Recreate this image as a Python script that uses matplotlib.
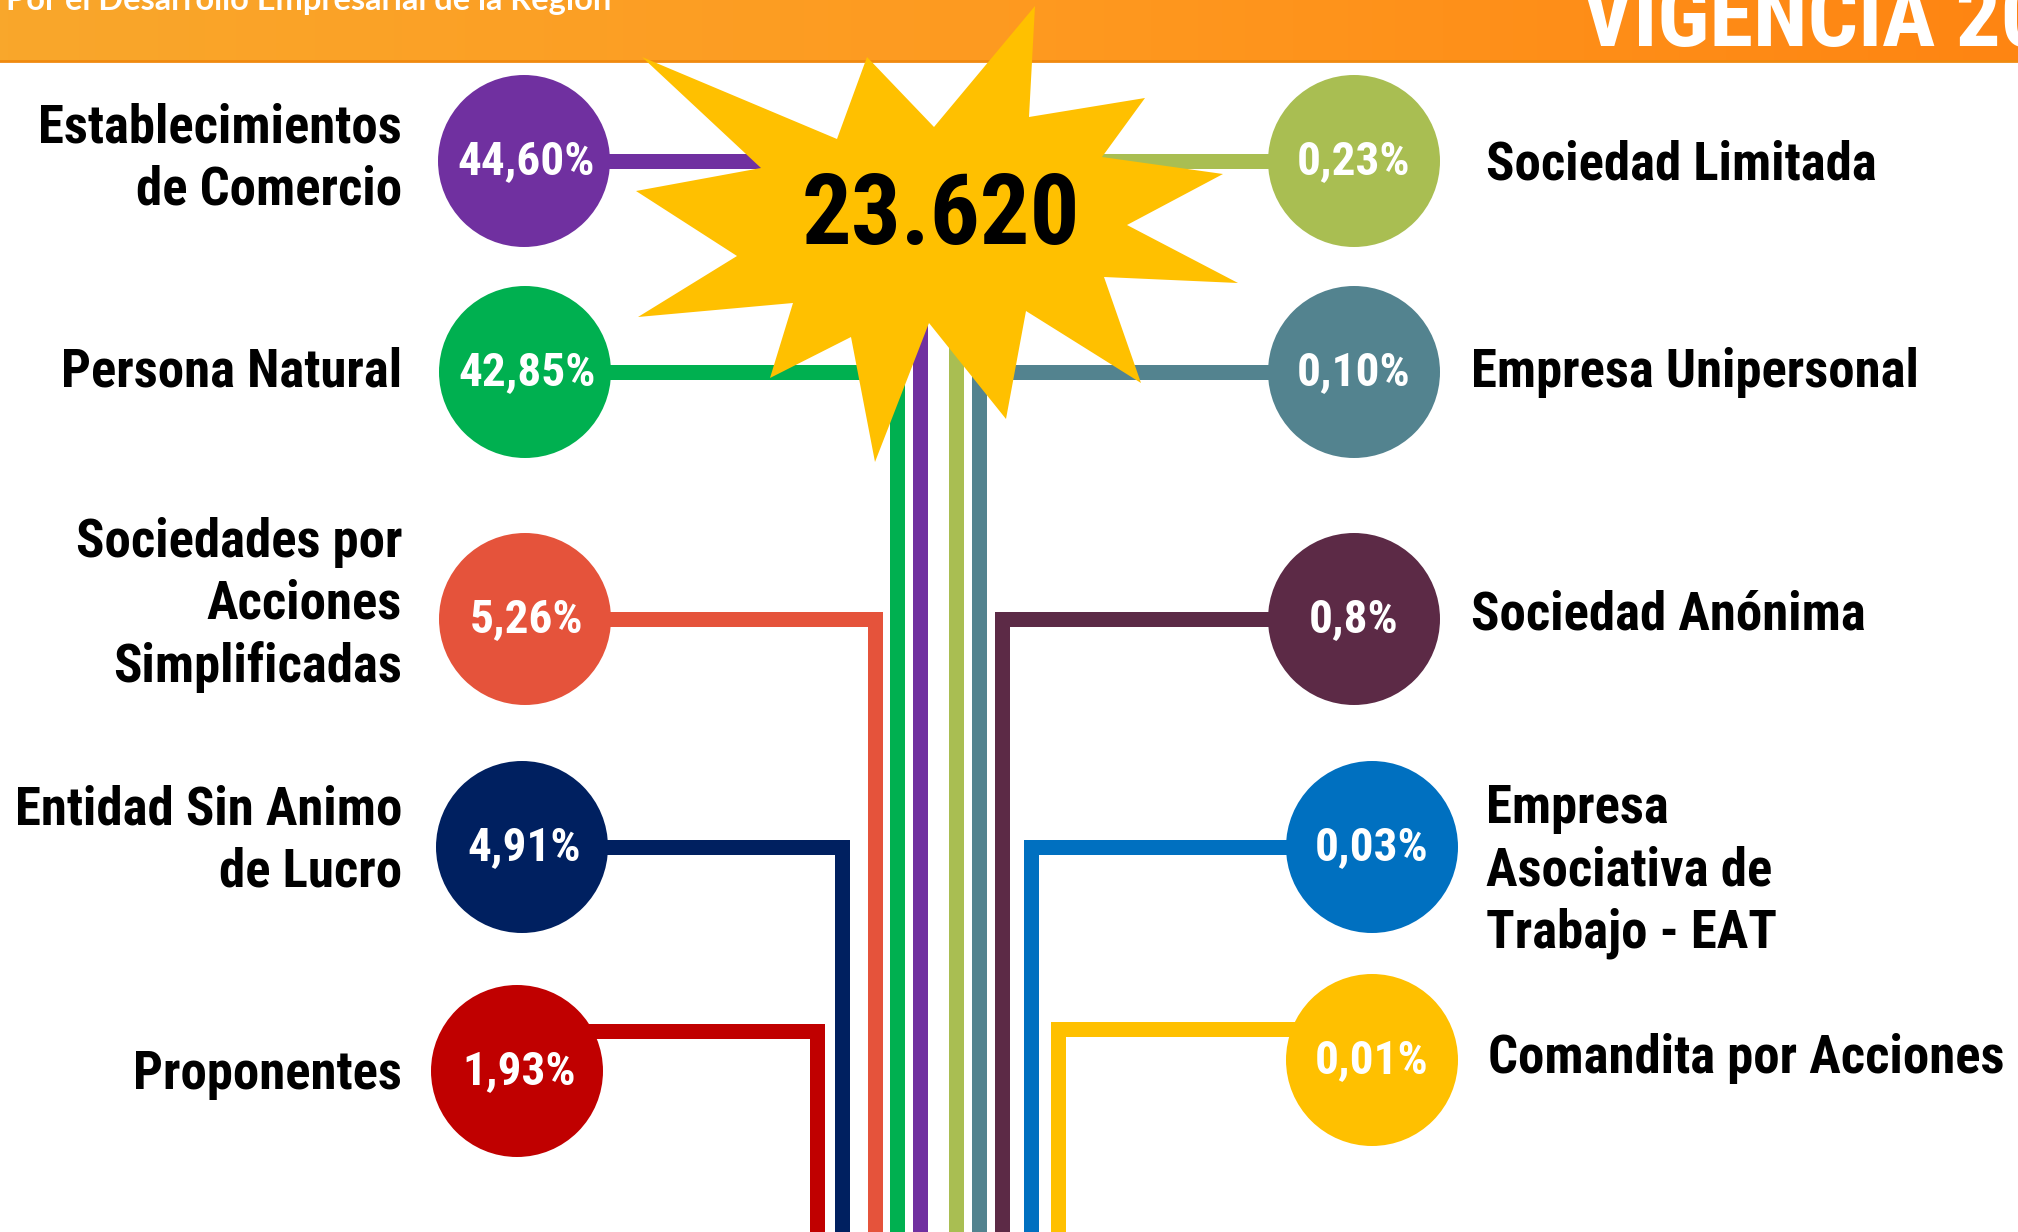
import numpy as np
import matplotlib
matplotlib.use("Agg")
import matplotlib.pyplot as plt
from matplotlib.patches import Circle, Polygon
from matplotlib.colors import LinearSegmentedColormap

# datos
total = "23.620"
left_labels = ["Establecimientos\nde Comercio", "Persona Natural",
               "Sociedades por\nAcciones\nSimplificadas",
               "Entidad Sin Animo\nde Lucro", "Proponentes"]
left_pct = ["44,60%", "42,85%", "5,26%", "4,91%", "1,93%"]
left_colors = ["#7030A0", "#00B050", "#E5533B", "#002060", "#C00000"]

right_labels = ["Sociedad Limitada", "Empresa Unipersonal", "Sociedad Anónima",
                "Empresa\nAsociativa de\nTrabajo - EAT", "Comandita por Acciones"]
right_pct = ["0,23%", "0,10%", "0,8%", "0,03%", "0,01%"]
right_colors = ["#A9BE52", "#53838F", "#5C2A46", "#0070C0", "#FFC000"]

# posiciones (pixeles de la imagen)
left_cx = [524, 525, 525, 522, 517]
left_cy = [161, 372, 619, 847, 1071]
left_hy = [161, 372, 619, 847, 1031]
left_vx = [920, 897, 875, 842, 817]
left_tx = [402, 402, 402, 402, 402]
left_ty = [159, 372, 605, 841, 1075]

right_cx = [1354, 1354, 1354, 1372, 1372]
right_cy = [161, 372, 619, 847, 1060]
right_hy = [161, 372, 619, 847, 1029]
right_vx = [956, 979, 1002, 1031, 1058]
right_tx = [1486, 1471, 1471, 1486, 1488]
right_ty = [165, 372, 615, 871, 1058]

star_pts = [(1035, 6), (1029, 117), (1145, 98), (1102, 157), (1223, 174),
            (1127, 225), (1238, 283), (1104, 277), (1141, 383), (1026, 311),
            (1006, 419), (929, 323), (875, 462), (851, 337), (770, 378),
            (793, 303), (638, 317), (737, 256), (636, 191), (761, 168),
            (642, 57), (837, 139), (867, 57), (934, 127)]

W, H = 2018, 1232
R = 86
font = ["Liberation Sans Narrow", "Roboto Condensed", "Archivo Narrow",
        "Liberation Sans", "DejaVu Sans"]

fig = plt.figure(figsize=(W / 100, H / 100), dpi=100)
ax = fig.add_axes([0, 0, 1, 1])
ax.set_xlim(0, W)
ax.set_ylim(H, 0)
ax.axis("off")

# franja superior naranja
cmap = LinearSegmentedColormap.from_list("banda", ["#F9A72B", "#FE9A20", "#FF8512"])
grad = np.linspace(0, 1, 256).reshape(1, -1)
ax.imshow(grad, cmap=cmap, extent=(0, W, 62, 0), aspect="auto", zorder=0)
ax.plot([0, W], [61, 61], color="#F08A10", lw=2, zorder=0.5)
ax.text(6, 10, "Por el Desarrollo Empresarial de la Región", color="white",
        fontsize=23.5, fontweight="bold", family=["Lato", "DejaVu Sans"],
        ha="left", va="baseline", zorder=1)
ax.text(1582, 46, "VIGENCIA 20", color="white", fontsize=64, fontweight="bold",
        family=font, ha="left", va="baseline", zorder=1)

lw = 15 * 72 / 100

for cx, hy, vx, c in zip(left_cx, left_hy, left_vx, left_colors):
    ax.plot([cx, vx, vx], [hy, hy, H + 10], color=c, lw=lw,
            solid_joinstyle="miter", solid_capstyle="butt", zorder=1)
for cx, hy, vx, c in zip(right_cx, right_hy, right_vx, right_colors):
    ax.plot([cx, vx, vx], [hy, hy, H + 10], color=c, lw=lw,
            solid_joinstyle="miter", solid_capstyle="butt", zorder=1)

# estrella
ax.add_patch(Polygon(star_pts, closed=True, facecolor="#FFC000",
                     edgecolor="none", zorder=2))
ax.text(941, 217, total, fontsize=71, fontweight="bold", family=font,
        ha="center", va="center", color="black", zorder=5)

for cx, cy, c, p in zip(left_cx, left_cy, left_colors, left_pct):
    ax.add_patch(Circle((cx, cy), R, facecolor=c, edgecolor="none", zorder=3))
    ax.text(cx + 2, cy, p, color="white", fontsize=34, fontweight="bold",
            family=font, ha="center", va="center", zorder=4)
for cx, cy, c, p in zip(right_cx, right_cy, right_colors, right_pct):
    ax.add_patch(Circle((cx, cy), R, facecolor=c, edgecolor="none", zorder=3))
    ax.text(cx, cy, p, color="white", fontsize=34, fontweight="bold",
            family=font, ha="center", va="center", zorder=4)

for x, y, t in zip(left_tx, left_ty, left_labels):
    ax.text(x, y, t, fontsize=38, fontweight="bold", family=font,
            ha="right", va="center", multialignment="right",
            linespacing=1.28, zorder=4)
for x, y, t in zip(right_tx, right_ty, right_labels):
    ax.text(x, y, t, fontsize=38, fontweight="bold", family=font,
            ha="left", va="center", multialignment="left",
            linespacing=1.28, zorder=4)

fig.savefig("out.png", dpi=100)
